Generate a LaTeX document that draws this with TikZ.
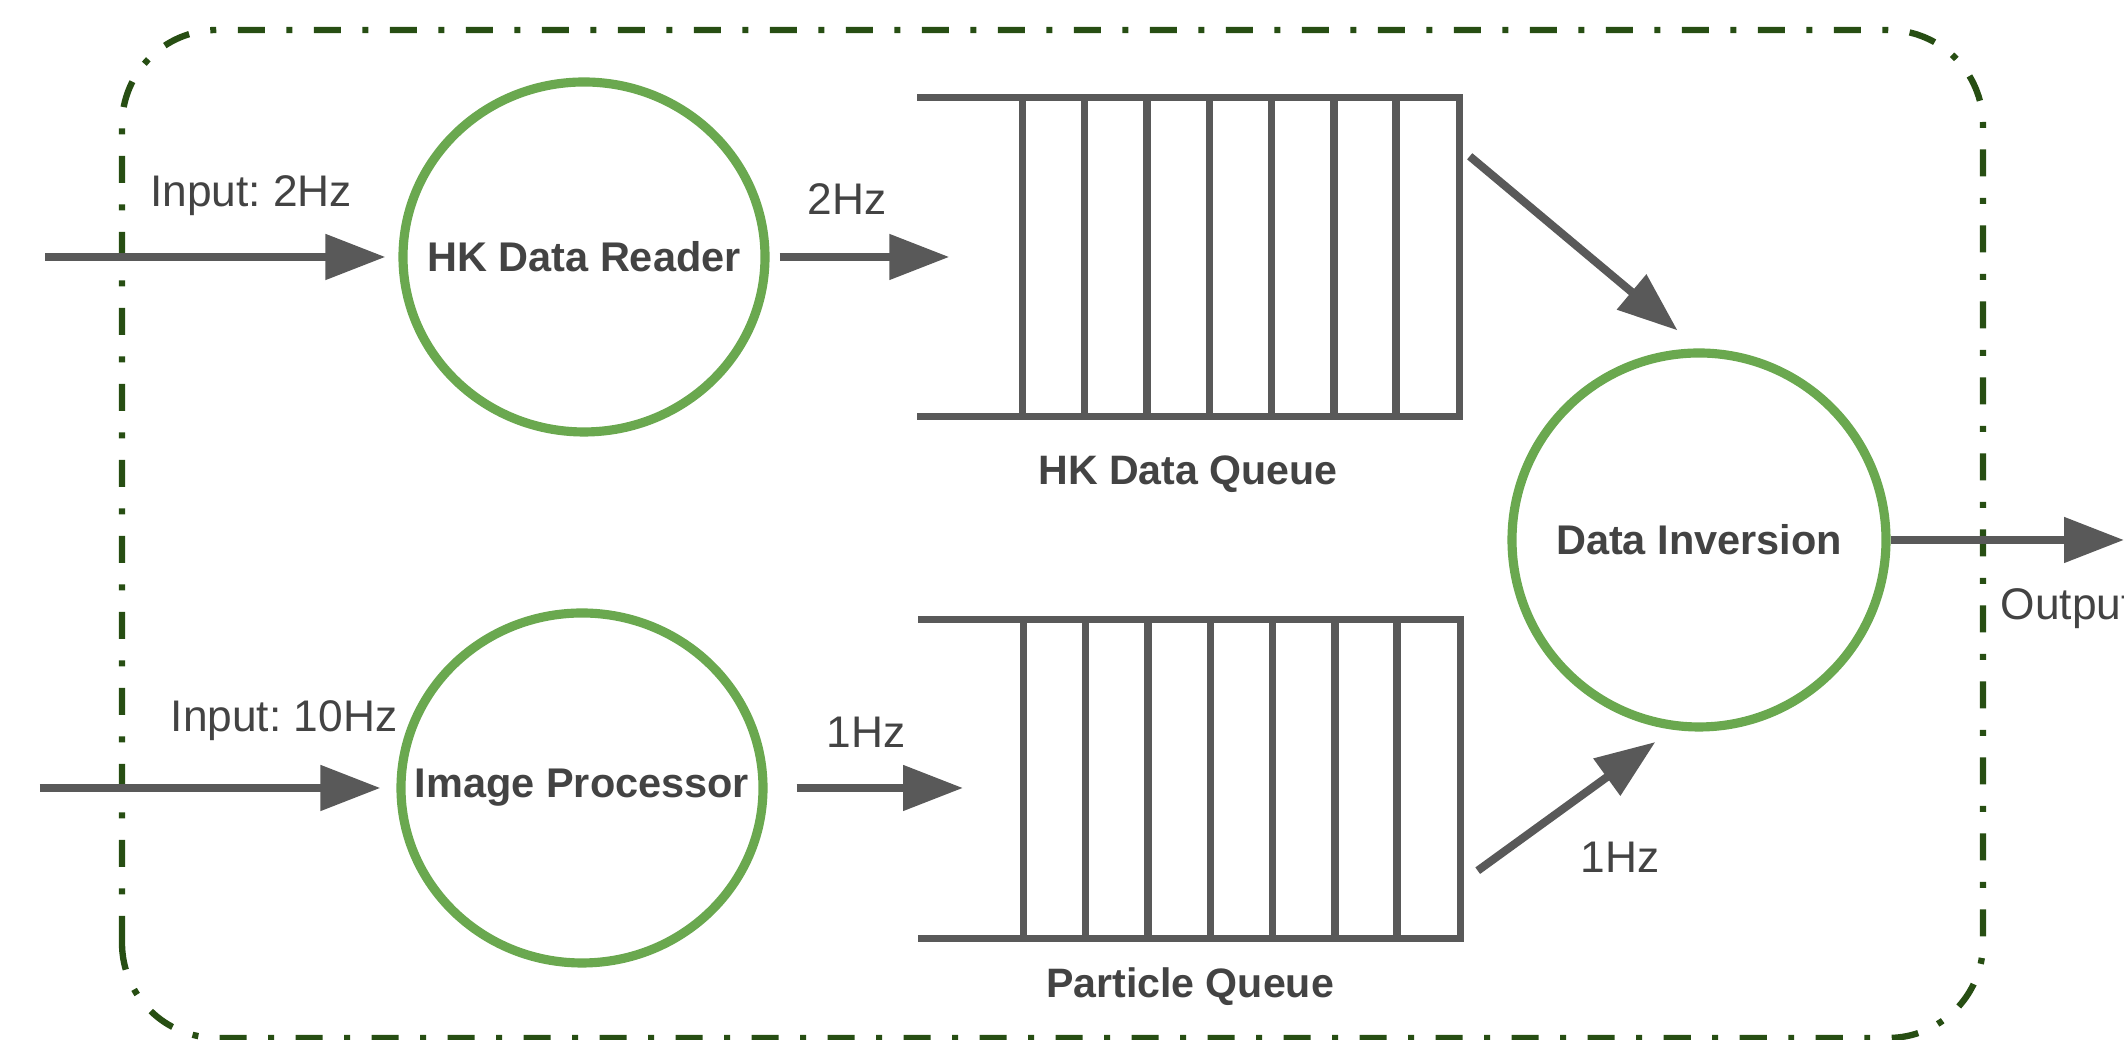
\documentclass[tikz,border=0pt]{standalone}
\usepackage{fontspec}
\setmainfont{Liberation Sans}
\usepackage{tikz}
\usetikzlibrary{positioning}
\usetikzlibrary{shapes.geometric}
\usetikzlibrary{arrows.meta}
\definecolor{procgreen}{HTML}{6AA84F}
\definecolor{boxgreen}{HTML}{274E13}
\definecolor{flowgray}{HTML}{595959}
\definecolor{textgray}{HTML}{434343}
\frenchspacing

\begin{document}
\begin{tikzpicture}[
    proc/.style={ellipse,draw=procgreen,line width=2.6pt,minimum width=3.62cm,minimum height=3.5cm,inner sep=0pt},
    inversion/.style={circle,draw=procgreen,line width=2.6pt,minimum size=3.74cm,inner sep=0pt},
    proclabel/.style={font=\bfseries\fontsize{11.8}{14}\selectfont,text=textgray},
    qlabel/.style={font=\bfseries\fontsize{11.7}{14}\selectfont,text=textgray,anchor=base,inner sep=0pt},
    rate/.style={font=\fontsize{12.6}{15}\selectfont,text=textgray,anchor=base,inner sep=0pt},
    queue/.style={minimum width=5.41cm,minimum height=3.18cm,inner sep=0pt},
    qline/.style={draw=flowgray,line width=2.1pt},
    flow/.style={draw=flowgray,line width=2.3pt,-{Triangle[length=6mm,width=4.4mm]}},
    boundary/.style={draw=boxgreen,line width=1.8pt,rounded corners=0.95cm,dash pattern=on 0.27cm off 0.215cm on 0.06cm off 0.215cm}
  ]
  \path[use as bounding box,clip] (0,0) rectangle (21.24,10.40);

  \draw[boundary] (1.22,0.02) rectangle (19.83,10.10);

  \node[proc,label={[proclabel]center:HK Data Reader}] (hkreader) at (5.84,7.83) {};
  \node[proc,label={[proclabel]center:Image Processor}] (imgproc) at (5.82,2.52) {};
  \node[inversion,label={[proclabel]center:Data Inversion}] (di) at (16.99,5.00) {};

  \node[queue] (hkq) at (11.885,7.83) {};
  \node[queue] (pq) at (11.895,2.61) {};
  \foreach \q in {hkq,pq} {
    \draw[qline] (\q.north west) -- (\q.north east) -- (\q.south east) -- (\q.south west);
    \foreach \k in {0,...,6}
      \draw[qline] ([xshift={10.5mm+\k*6.23mm}]\q.north west) -- ([xshift={10.5mm+\k*6.23mm}]\q.south west);
  }
  \node[qlabel] (hkqlabel) at (11.88,5.55) {HK Data Queue};
  \node[qlabel] (pqlabel) at (11.90,0.42) {Particle Queue};

  \coordinate (hkin) at (0.45,7.83);
  \coordinate (imgin) at (0.40,2.52);
  \coordinate (hkqin) at ([xshift=3.2mm]hkq.west);
  \coordinate (pqin) at (9.63,2.52);
  \coordinate (hkqout) at ([shift={(1mm,-5.9mm)}]hkq.north east);
  \coordinate (pqout) at ([shift={(1.7mm,6.8mm)}]pq.south east);
  \coordinate (outend) at (21.24,5.00);

  \draw[flow,shorten >=1.3mm] (hkin) -- (hkreader.west);
  \draw[flow,shorten >=1.6mm] (imgin) -- (imgproc.west);
  \draw[flow,shorten <=1mm] (hkreader.east) -- (hkqin);
  \draw[flow,shorten <=2.9mm] (imgproc.east) -- (pqin);
  \draw[flow,shorten >=2.8mm] (hkqout) -- (di.north);
  \draw[flow,shorten >=2.1mm] (pqout) -- (di.262);
  \draw[flow] (di.east) -- (outend);

  \node[rate] (hkrate) at (2.51,8.33) {Input: 2Hz};
  \node[rate] (imgrate) at (2.84,3.08) {Input: 10Hz};
  \node[rate] (hkqrate) at (8.47,8.25) {2Hz};
  \node[rate] (pqrate) at (8.66,2.92) {1Hz};
  \node[rate] (dirate) at (16.20,1.67) {1Hz};
  \node[rate,anchor=base west] (outlabel) at (20.00,4.20) {Output};
\end{tikzpicture}
\end{document}
